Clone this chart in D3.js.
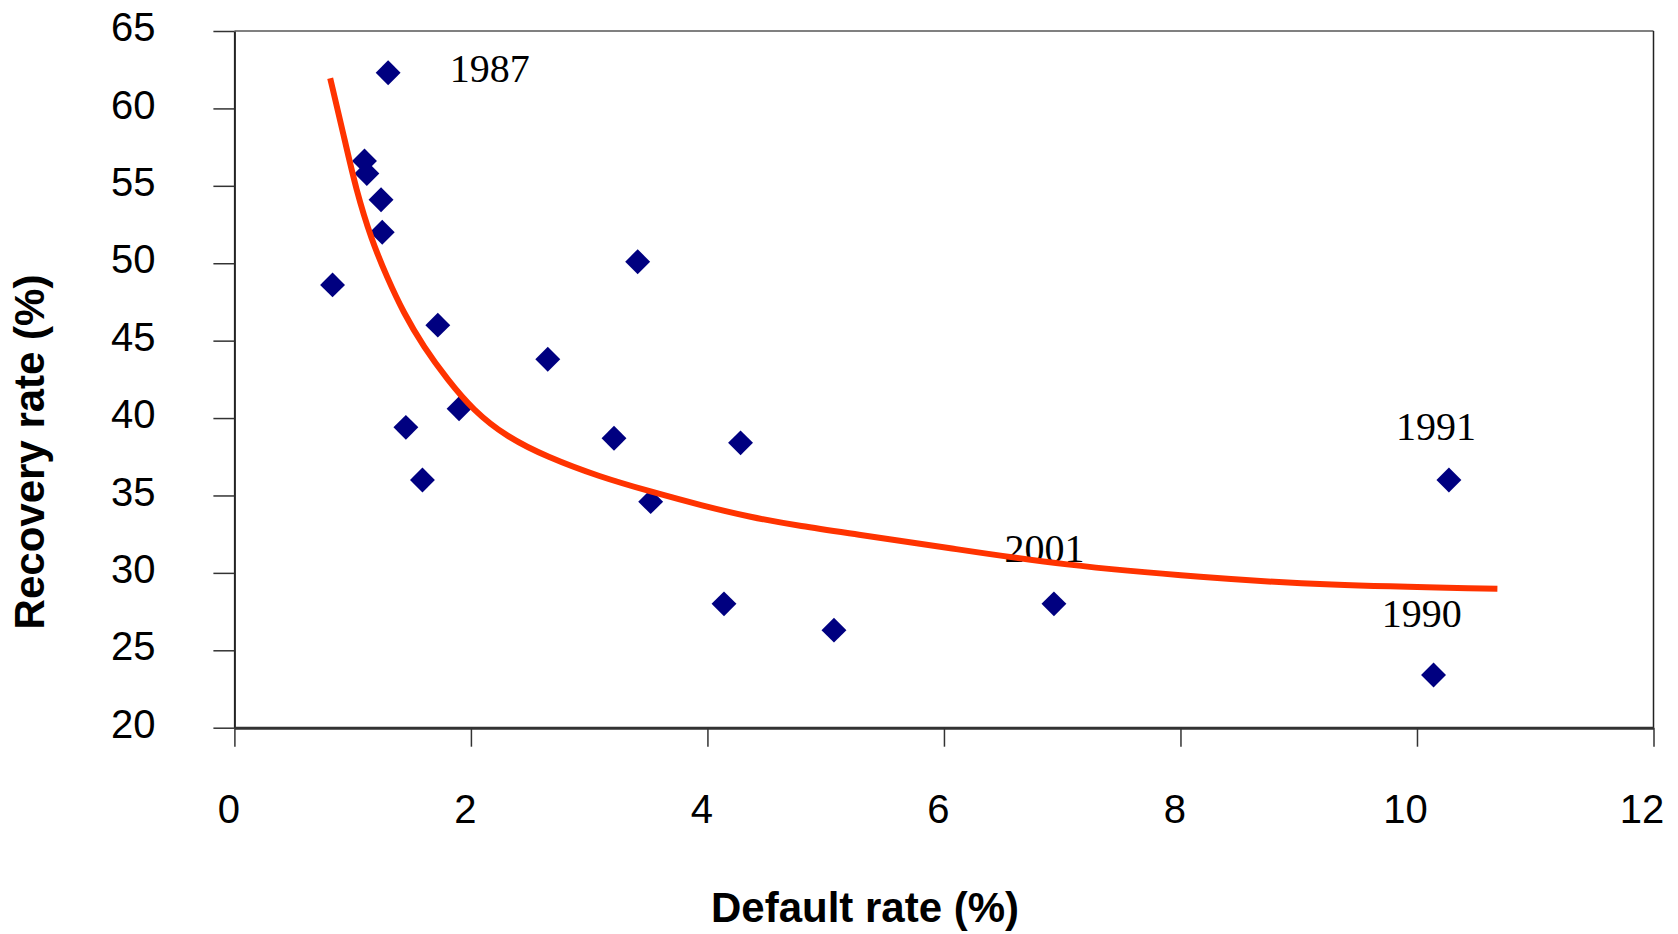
<!DOCTYPE html>
<html>
<head>
<meta charset="utf-8">
<title>Recovery rate vs default rate</title>
<style>
body { margin: 0; background: #fff; }
text { font-family: Arial, 'Liberation Sans', sans-serif; fill: #000; }
.year { font-family: 'Times New Roman', 'Liberation Serif', serif; }
</style>
</head>
<body>
<script src="https://d3js.org/d3.v7.min.js"></script>
<div id="my_dataviz"></div>
<script>
// observed years: default rate (%) and recovery rate (%)
var defaultRate  = [1.30, 1.10, 1.12, 1.24, 1.25, 0.83, 3.41, 1.72, 2.65, 1.90, 1.45, 3.21, 4.28, 1.59, 3.52, 4.14, 5.07, 6.93, 10.27, 10.14];
var recoveryRate = [62.3, 56.6, 55.8, 54.1, 52.0, 48.6, 50.1, 46.0, 43.8, 40.6, 39.4, 38.7, 38.4, 36.0, 34.6, 28.0, 26.3, 28.0, 36.0, 23.4];

// fitted curve
var curveX = [0.81, 0.92, 1.03, 1.16, 1.29, 1.43, 1.60, 1.80, 2.02, 2.30, 2.64, 3.09, 3.52, 3.95, 4.36, 4.80, 5.21, 6.05, 7.00, 8.20, 9.20, 10.68];
var curveY = [61.95, 58.4, 54.7, 51.5, 49.1, 46.8, 44.6, 42.5, 40.5, 38.8, 37.5, 36.2, 35.25, 34.35, 33.6, 33.0, 32.55, 31.6, 30.5, 29.7, 29.2, 28.97];

// year annotations
var labelText = ["1987", "2001", "1991", "1990"];
var labelX    = [2.16, 6.85, 10.16, 10.04];
var labelY    = [61.7, 30.7, 38.6, 26.5];

var xTicks = [0, 2, 4, 6, 8, 10, 12];
var yTicks = [20, 25, 30, 35, 40, 45, 50, 55, 60, 65];

var W = 1678, H = 934;
var margin = {left: 234.4, right: 1653.5, top: 31, bottom: 727.7};

var svg = d3.select("#my_dataviz")
  .append("svg")
  .attr("width", W)
  .attr("height", H);

var x = d3.scaleLinear().domain([0, 12]).range([margin.left, margin.right]);
var y = d3.scaleLinear().domain([20, 65]).range([margin.bottom, margin.top]);

// plot frame (top and right)
svg.append("line")
  .attr("x1", x(0)).attr("x2", x(12))
  .attr("y1", y(65)).attr("y2", y(65))
  .style("stroke", "#808080").style("stroke-width", 2);
svg.append("line")
  .attr("x1", x(12)).attr("x2", x(12))
  .attr("y1", y(65)).attr("y2", y(20))
  .style("stroke", "#222").style("stroke-width", 1.5);

// y axis
var gy = svg.append("g")
  .attr("transform", "translate(" + margin.left + ",0)")
  .call(d3.axisLeft(y).tickValues(yTicks).tickSize(21).tickSizeOuter(0).tickPadding(58));
gy.select(".domain").style("stroke", "#222").style("stroke-width", 2);
gy.selectAll(".tick line").style("stroke", "#333").style("stroke-width", 1.5);
gy.selectAll(".tick text")
  .attr("dy", "0.24em")
  .style("font-family", "Arial, 'Liberation Sans', sans-serif")
  .style("font-size", "40px");

// x axis
var gx = svg.append("g")
  .attr("transform", "translate(0," + margin.bottom + ")")
  .call(d3.axisBottom(x).tickValues(xTicks).tickSize(19).tickSizeOuter(0).tickPadding(48));
gx.select(".domain").style("stroke", "#333").style("stroke-width", 3);
gx.selectAll(".tick line").style("stroke", "#333").style("stroke-width", 1.5);
gx.selectAll(".tick text")
  .attr("dx", function(d) { return -6 * String(d).length; })
  .style("font-family", "Arial, 'Liberation Sans', sans-serif")
  .style("font-size", "40px");

// axis titles
svg.append("text")
  .attr("x", 865).attr("y", 922)
  .attr("text-anchor", "middle")
  .style("font-size", "42px").style("font-weight", "bold")
  .text("Default rate (%)");
svg.append("text")
  .attr("transform", "translate(44,452) rotate(-90)")
  .attr("text-anchor", "middle")
  .style("font-size", "42px").style("font-weight", "bold")
  .text("Recovery rate (%)");

// year labels (drawn under the curve)
svg.selectAll("text.year")
  .data(labelText)
  .enter()
  .append("text")
    .attr("class", "year")
    .attr("x", function(d, i) { return x(labelX[i]); })
    .attr("y", function(d, i) { return y(labelY[i]); })
    .attr("text-anchor", "middle")
    .style("font-size", "40px")
    .text(function(d) { return d; });

// points
var diamond = d3.symbol().type(d3.symbolSquare).size(310);
svg.selectAll("path.pt")
  .data(defaultRate)
  .enter()
  .append("path")
    .attr("class", "pt")
    .attr("d", diamond)
    .attr("transform", function(d, i) {
      return "translate(" + x(d) + "," + y(recoveryRate[i]) + ") rotate(45)";
    })
    .style("fill", "#000080");

// curve
var line = d3.line()
  .x(function(d) { return x(d); })
  .y(function(d, i) { return y(curveY[i]); })
  .curve(d3.curveBasis);
svg.append("path")
  .datum(curveX)
  .attr("d", line)
  .style("fill", "none")
  .style("stroke", "#ff3300")
  .style("stroke-width", 6);
</script>
</body>
</html>
